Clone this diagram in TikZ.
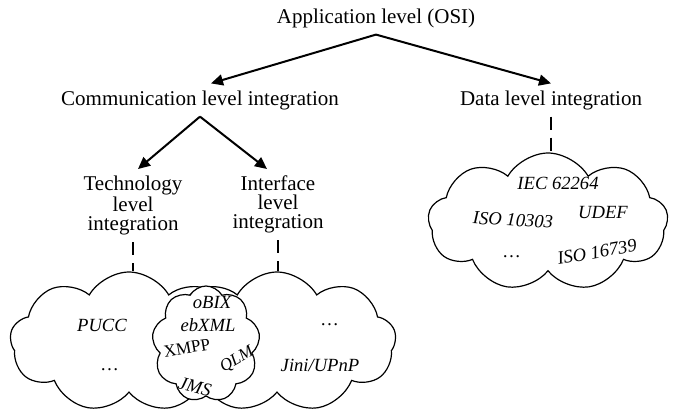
\documentclass[tikz,border=0pt]{standalone}
\usepackage{fontspec}
\setmainfont{Liberation Serif}
\usetikzlibrary{positioning,arrows.meta,shapes.symbols}

\begin{document}
\begin{tikzpicture}[x=0.5pt,y=-0.5pt,
    level/.style={align=center,font=\fontsize{10.5}{9.4}\selectfont},
    tree/.style={-{Triangle[length=6pt,width=5.5pt]},line width=1pt},
    link/.style={line width=0.6pt,dash pattern=on 6.5pt off 4pt},
    cloudbox/.style={draw,line width=0.6pt,cloud,cloud puffs=9,cloud puff arc=120,cloud ignores aspect,fill=white,inner sep=0pt},
    item/.style={font=\fontsize{9.3}{11}\selectfont\itshape,inner sep=0pt}]
    \useasboundingbox (0,0) rectangle (675,418);
    \node[level] (app) at (376,18) {Application level (OSI)};
    \node[level] (comm) at (200,100) {Communication level integration};
    \node[level] (data) at (551,100) {Data level integration};
    \node[level,anchor=north] (tech) at (133,169) {Technology\\level\\integration};
    \node[level,anchor=north] (iface) at (278,169) {Interface\\level\\integration};
    %
    \node[cloudbox,minimum width=119pt,minimum height=70pt] (tech_cloud) at (129,342) {};
    \node[cloudbox,minimum width=119pt,minimum height=70pt] (iface_cloud) at (277,342) {};
    \node[cloudbox,minimum width=54pt,minimum height=58pt] (both_cloud) at (206,344) {};
    \node[cloudbox,minimum width=120pt,minimum height=69pt] (data_cloud) at (548,222) {};
    %
    \draw[tree] (app.south) -- ([xshift=5.5pt]comm.north);
    \draw[tree] (app.south) -- (data.north);
    \draw[tree] (comm.south) -- ([xshift=2.5pt]tech.north);
    \draw[tree] (comm.south) -- ([xshift=-5.5pt]iface.north);
    %
    \draw[link] (tech.south) -- (tech.south |- tech_cloud.north);
    \draw[link] (iface.south) -- (iface.south |- iface_cloud.north);
    \draw[link] (data.south) -- (data.south |- data_cloud.north);
    %
    \node[item] (pucc) at (102,325) {PUCC};
    \node[item] (tech_more) at (110,370) {\dots};
    \node[item] (iface_more) at (330,325) {\dots};
    \node[item] (jini) at (320,365) {Jini/UPnP};
    \node[item] (obix) at (212,302) {oBIX};
    \node[item] (ebxml) at (208,325) {ebXML};
    \node[item,font=\fontsize{8.6}{11}\selectfont,rotate=10] (xmpp) at (187,348) {XMPP};
    \node[item,font=\fontsize{8.5}{11}\selectfont\itshape,rotate=30] (qlm) at (237,360) {QLM};
    \node[item,rotate=-15] (jms) at (195,387) {JMS};
    %
    \node[item] (iec) at (558,183) {IEC 62264};
    \node[item,rotate=-3] (iso_a) at (513,220) {ISO 10303};
    \node[item] (udef) at (603,212) {UDEF};
    \node[item] (data_more) at (512,257) {\dots};
    \node[item,rotate=10] (iso_b) at (597,252) {ISO 16739};
\end{tikzpicture}
\end{document}
